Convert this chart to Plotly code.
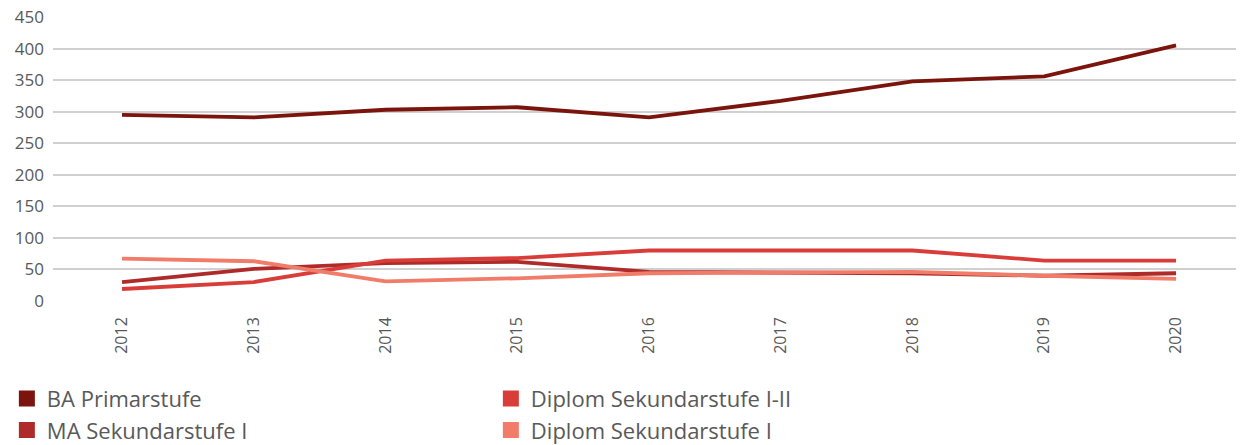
import plotly.graph_objects as go

years = ["2012", "2013", "2014", "2015", "2016", "2017", "2018", "2019", "2020"]
ba_primarstufe = [295, 291, 303, 307, 291, 317, 348, 356, 405]
ma_sekundarstufe_1 = [30, 51, 60, 62, 46, 45, 44, 40, 44]
diplom_sek_1_2 = [19, 30, 64, 68, 80, 80, 80, 64, 64]
diplom_sek_1 = [67, 63, 31, 36, 44, 45, 46, 40, 35]

series_names = ["BA Primarstufe", "MA Sekundarstufe I", "Diplom Sekundarstufe I-II", "Diplom Sekundarstufe I"]
series_values = [ba_primarstufe, ma_sekundarstufe_1, diplom_sek_1_2, diplom_sek_1]
colors = ["#7A140C", "#AE2B29", "#D93D39", "#F07C69"]
y_ticks = [0, 50, 100, 150, 200, 250, 300, 350, 400, 450]

fig = go.Figure()
for name, vals, col in zip(series_names, series_values, colors):
    fig.add_trace(go.Scatter(x=years, y=vals, mode="lines", name=name,
                             line=dict(color=col, width=3.8), showlegend=False))

# legend entries as squares, ordered row-wise like the reference
legend_order = [0, 2, 1, 3]
for i in legend_order:
    fig.add_trace(go.Scatter(x=[None], y=[None], mode="markers", name=series_names[i],
                             marker=dict(symbol="square", size=20, color=colors[i]),
                             showlegend=True))

fig.update_layout(
    width=1247, height=445,
    margin=dict(l=53, r=11, t=17, b=144, autoexpand=False),
    paper_bgcolor="white", plot_bgcolor="white",
    font=dict(family="Open Sans", color="#595959"),
    xaxis=dict(type="category", range=[-0.524, 8.455], showgrid=False, zeroline=False,
               showline=False, tickangle=-90, tickfont=dict(size=16, color="#595959"),
               ticks="", automargin=False, ticklabelstandoff=12),
    yaxis=dict(range=[0, 450], tickvals=y_ticks, showgrid=True, gridcolor="#D0D0D0",
               gridwidth=1.5, zeroline=False, showline=False, automargin=False,
               tickfont=dict(size=17, color="#595959"), ticks="", ticklabelstandoff=8),
    legend=dict(orientation="h", x=-0.039, xanchor="left", y=-0.27, yanchor="top",
                font=dict(size=22, color="#595959"), entrywidth=439,
                entrywidthmode="pixels", traceorder="normal", itemsizing="trace",
                bgcolor="rgba(0,0,0,0)"),
    showlegend=True,
)

fig.write_html("out.html", config={"displayModeBar": False},
               post_script="document.body.style.margin='0';")
